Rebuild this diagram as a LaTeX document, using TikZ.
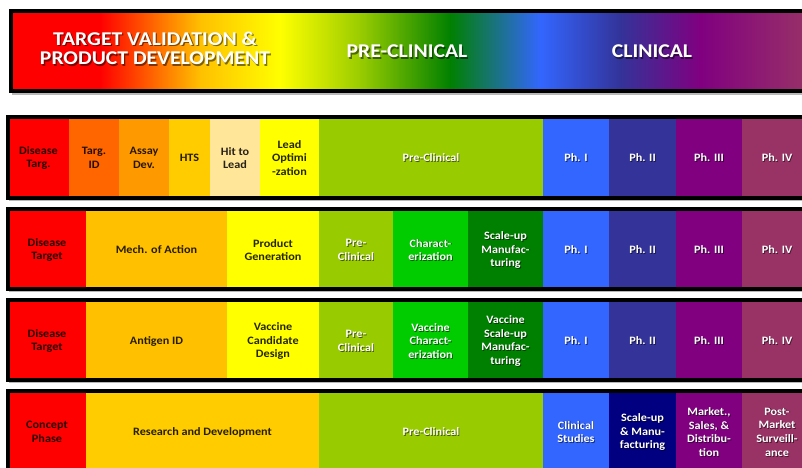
\documentclass[tikz,border=0pt]{standalone}
\usepackage{fontspec}
\setmainfont{Carlito}[FakeStretch=1.08]
\newfontfamily\myhdfam{Carlito}[FakeStretch=1.11]
\definecolor{cRed}{HTML}{FF0000}
\definecolor{cOrR}{HTML}{FF6600}
\definecolor{cOr}{HTML}{FF9900}
\definecolor{cGold}{HTML}{FFCC00}
\definecolor{cAmb}{HTML}{FFC000}
\definecolor{cLt}{HTML}{FFE699}
\definecolor{cYel}{HTML}{FFFF00}
\definecolor{cLime}{HTML}{99CC00}
\definecolor{cBGr}{HTML}{00CC00}
\definecolor{cDGr}{HTML}{008000}
\definecolor{cBlue}{HTML}{3366FF}
\definecolor{cIndi}{HTML}{333399}
\definecolor{cNavy}{HTML}{000080}
\definecolor{cPurp}{HTML}{800080}
\definecolor{cPlum}{HTML}{993366}
\newcommand\myrowfont{\fontsize{11.3bp}{13.7bp}\selectfont\bfseries}
\newcommand\myhdfont{\myhdfam\fontsize{19.5bp}{19.6bp}\selectfont\bfseries}
\newcommand\dcell[8]{%
  \fill[#6] (#2,#4) rectangle (#3,#5);
  \node[dk] (#1) at ({(#2+#3)/2},#7) {#8};}
\newcommand\wcell[8]{%
  \fill[#6] (#2,#4) rectangle (#3,#5);
  \node[wtsh] (#1s) at ({(#2+#3)/2},#7) {#8};
  \node[wt] (#1) at ({(#2+#3)/2},#7) {#8};}
\newcommand\hseg[4]{%
  \shade[left color=#3, right color=#4] (#1,11) rectangle ({#2+0.6},91);}
\begin{document}
\begin{tikzpicture}[x=1bp,y=-1bp,
  frame/.style={draw=black, line width=4bp},
  boxshadow/.style={fill=black!28},
  dk/.style={text=black, text opacity=0.85, align=center, font=\myrowfont, inner sep=0pt},
  wt/.style={text=white, align=center, font=\myrowfont, inner sep=0pt},
  wtsh/.style={text=black, text opacity=0.55, align=center, font=\myrowfont, inner sep=0pt, xshift=0.9bp, yshift=-0.9bp},
  hd/.style={text=white, align=center, font=\myhdfont, inner sep=0pt},
  hdsh/.style={text=black, text opacity=0.5, align=center, font=\myhdfont, inner sep=0pt, xshift=1.3bp, yshift=-1.3bp}]
\useasboundingbox (0,0) rectangle (802,468);
\clip (0,0) rectangle (802,468);
\fill[white] (0,0) rectangle (802,468);
% ---------- header ----------
\fill[boxshadow] (12,14) rectangle (815,95);
\hseg{11}{100}{cRed}{cRed}
\hseg{100}{200}{cRed}{cAmb}
\hseg{200}{280}{cAmb}{cYel}
\hseg{280}{360}{cYel}{cLime}
\hseg{360}{450}{cLime}{cDGr}
\hseg{450}{540}{cDGr}{cBlue}
\hseg{540}{620}{cBlue}{cIndi}
\hseg{620}{700}{cIndi}{cPurp}
\hseg{700}{812}{cPurp}{cPlum}
\draw[frame] (11,11) rectangle (812,91);
\node[hdsh] (h1s) at (155,48.5) {TARGET VALIDATION \&\\PRODUCT DEVELOPMENT};
\node[hd] (h1) at (155,48.5) {TARGET VALIDATION \&\\PRODUCT DEVELOPMENT};
\node[hdsh] (h2s) at (407,51.5) {PRE-CLINICAL};
\node[hd] (h2) at (407,51.5) {PRE-CLINICAL};
\node[hdsh] (h3s) at (652,51.5) {CLINICAL};
\node[hd] (h3) at (652,51.5) {CLINICAL};
% ---------- row 1 ----------
\fill[boxshadow] (9,119) rectangle (814,201);
\dcell{ra}{8}{69}{117}{198}{cRed}{158}{Disease\\Targ.}
\dcell{rb}{69}{119}{117}{198}{cOrR}{158}{Targ.\\ID}
\dcell{rc}{119}{169}{117}{198}{cOr}{158}{Assay\\Dev.}
\dcell{rd}{169}{210}{117}{198}{cGold}{158}{HTS}
\dcell{re}{210}{260}{117}{198}{cLt}{158}{Hit to\\Lead}
\dcell{rf}{260}{319}{117}{198}{cYel}{158}{Lead\\Optimi\\-zation}
\wcell{rg}{319}{543}{117}{198}{cLime}{158}{Pre-Clinical}
\wcell{rh}{543}{609}{117}{198}{cBlue}{158}{Ph. I}
\wcell{ri}{609}{676}{117}{198}{cIndi}{158}{Ph. II}
\wcell{rj}{676}{742}{117}{198}{cPurp}{158}{Ph. III}
\wcell{rk}{742}{812}{117}{198}{cPlum}{158}{Ph. IV}
\draw[frame] (8,117) rectangle (812,198);
% ---------- row 2 ----------
\fill[boxshadow] (9,211) rectangle (814,292);
\dcell{sa}{8}{86}{209}{289}{cRed}{250}{Disease\\Target}
\dcell{sb}{86}{227}{209}{289}{cAmb}{250}{Mech. of Action}
\dcell{sc}{227}{319}{209}{289}{cYel}{250}{Product\\Generation}
\wcell{sd}{319}{393}{209}{289}{cLime}{250}{Pre-\\Clinical}
\wcell{se}{393}{468}{209}{289}{cBGr}{250}{Charact-\\erization}
\wcell{sf}{468}{543}{209}{289}{cDGr}{250}{Scale-up\\Manufac-\\turing}
\wcell{sg}{543}{609}{209}{289}{cBlue}{250}{Ph. I}
\wcell{sh}{609}{676}{209}{289}{cIndi}{250}{Ph. II}
\wcell{si}{676}{742}{209}{289}{cPurp}{250}{Ph. III}
\wcell{sj}{742}{812}{209}{289}{cPlum}{250}{Ph. IV}
\draw[frame] (8,209) rectangle (812,289);
% ---------- row 3 ----------
\fill[boxshadow] (9,302) rectangle (814,383);
\dcell{ta}{8}{86}{300}{380}{cRed}{341}{Disease\\Target}
\dcell{tb}{86}{227}{300}{380}{cAmb}{341}{Antigen ID}
\dcell{tc}{227}{319}{300}{380}{cYel}{341}{Vaccine\\Candidate\\Design}
\wcell{td}{319}{393}{300}{380}{cLime}{341}{Pre-\\Clinical}
\wcell{te}{393}{468}{300}{380}{cBGr}{341}{Vaccine\\Charact-\\erization}
\wcell{tf}{468}{543}{300}{380}{cDGr}{341}{Vaccine\\Scale-up\\Manufac-\\turing}
\wcell{tg}{543}{609}{300}{380}{cBlue}{341}{Ph. I}
\wcell{th}{609}{676}{300}{380}{cIndi}{341}{Ph. II}
\wcell{ti}{676}{742}{300}{380}{cPurp}{341}{Ph. III}
\wcell{tj}{742}{812}{300}{380}{cPlum}{341}{Ph. IV}
\draw[frame] (8,300) rectangle (812,380);
% ---------- row 4 ----------
\fill[boxshadow] (9,393) rectangle (814,484);
\dcell{ua}{8}{86}{391}{480}{cRed}{432}{Concept\\Phase}
\dcell{ub}{86}{319}{391}{480}{cGold}{432}{Research and Development}
\wcell{uc}{319}{543}{391}{480}{cLime}{432}{Pre-Clinical}
\wcell{ud}{543}{609}{391}{480}{cBlue}{432}{Clinical\\Studies}
\wcell{ue}{609}{676}{391}{480}{cNavy}{432}{Scale-up\\\& Manu-\\facturing}
\wcell{uf}{676}{742}{391}{480}{cPurp}{432}{Market.,\\Sales, \&\\Distribu-\\tion}
\wcell{ug}{742}{812}{391}{480}{cPlum}{432}{Post-\\Market\\Surveill-\\ance}
\draw[frame] (8,391) rectangle (812,480);
\end{tikzpicture}
\end{document}
